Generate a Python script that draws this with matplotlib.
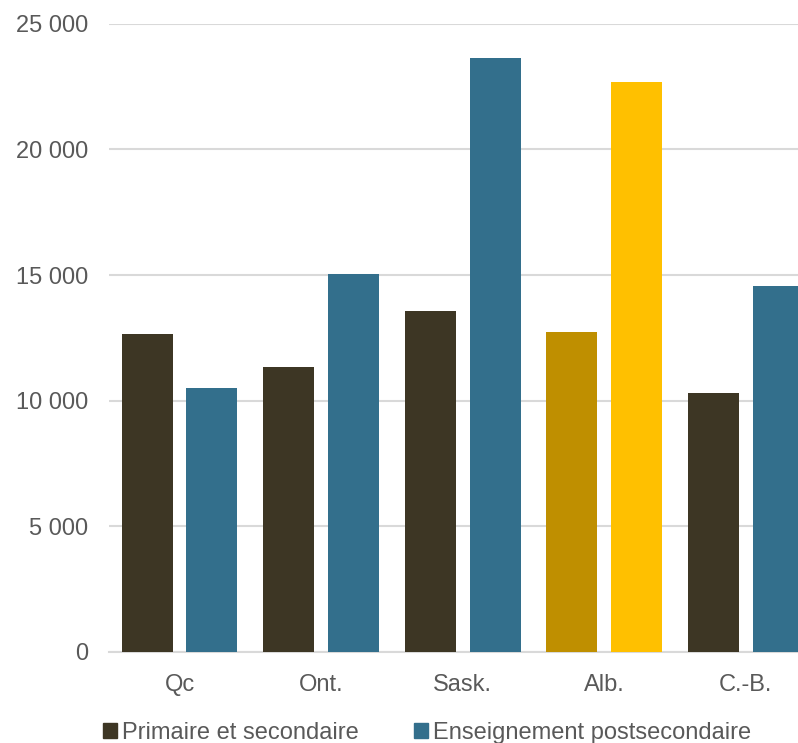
import matplotlib.pyplot as plt
import numpy as np
from matplotlib.patches import Patch
from matplotlib.ticker import FuncFormatter

plt.rcParams['font.family'] = ['Liberation Sans', 'DejaVu Sans']

provinces = ['Qc', 'Ont.', 'Sask.', 'Alb.', 'C.-B.']
primaire = [12650, 11350, 13550, 12720, 10300]
postsec = [10520, 15060, 23650, 22680, 14560]

brown = '#3D3624'
blue = '#336F8C'
# Alberta is highlighted
col_prim = [brown, brown, brown, '#BF8F00', brown]
col_post = [blue, blue, blue, '#FFC000', blue]

fig = plt.figure(figsize=(7.98, 7.43), dpi=100)
ax = fig.add_axes([108.7 / 798, 91 / 743, (798 - 108.7) / 798, 628.3 / 743])

x = np.arange(len(provinces))
w = 0.36
off = 0.229
ax.bar(x - off, primaire, w, color=col_prim, zorder=3)
ax.bar(x + off, postsec, w, color=col_post, zorder=3)

ax.set_xlim(-0.5, -0.5 + (798 - 108.7) / 141.6)
ax.set_ylim(0, 25000)
ax.set_yticks(np.arange(0, 25001, 5000))
ax.yaxis.set_major_formatter(FuncFormatter(lambda v, p: f'{int(v):,}'.replace(',', ' ')))
ax.set_xticks(x)
ax.set_xticklabels(provinces)
ax.grid(axis='y', color='#D9D9D9', linewidth=1.5, zorder=0)
for s in ['top', 'right', 'left']:
  ax.spines[s].set_visible(False)
ax.spines['bottom'].set_color('#D9D9D9')
ax.spines['bottom'].set_linewidth(1.5)
ax.tick_params(length=0, labelsize=17, labelcolor='#595959')
ax.tick_params(axis='y', pad=15)
ax.tick_params(axis='x', pad=16)

handles = [Patch(color=brown), Patch(color=blue)]
fig.legend(handles, ['Primaire et secondaire', 'Enseignement postsecondaire'],
           loc='center left', bbox_to_anchor=(103 / 798, 1 - 733 / 743), ncol=2,
           frameon=False, fontsize=17, labelcolor='#595959',
           handlelength=0.6, handleheight=0.6, handletextpad=0.2,
           columnspacing=2.35, borderpad=0, borderaxespad=0)

fig.savefig('out.png', dpi=100)
